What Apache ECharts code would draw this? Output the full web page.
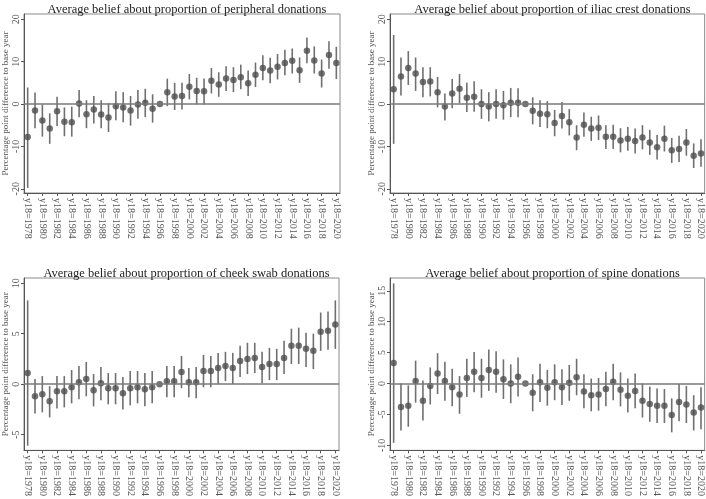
<!DOCTYPE html>
<html><head><meta charset="utf-8">
<script src="https://cdn.jsdelivr.net/npm/echarts@6/dist/echarts.min.js"></script>
<style>html,body{margin:0;padding:0;background:#fff}#c{width:706px;height:499px}</style>
</head><body><div id="c"></div>
<script>
const years = [1978,1979,1980,1981,1982,1983,1984,1985,1986,1987,1988,1989,1990,1991,1992,1993,1994,1995,1996,1997,1998,1999,2000,2001,2002,2003,2004,2005,2006,2007,2008,2009,2010,2011,2012,2013,2014,2015,2016,2017,2018,2019,2020];
const tickYears = [1978,1980,1982,1984,1986,1988,1990,1992,1994,1996,1998,2000,2002,2004,2006,2008,2010,2012,2014,2016,2018,2020];
const titles = [
  'Average belief about proportion of peripheral donations',
  'Average belief about proportion of iliac crest donations',
  'Average belief about proportion of cheek swab donations',
  'Average belief about proportion of spine donations'
];
const yTicksWide = [-20,-10,0,10,20];
const yTicksCheek = [-5,0,5,10];
const yTicksSpine = [-10,-5,0,5,10,15];

const periEst = [-7.8,-1.5,-3.9,-5.8,-1.7,-4.2,-4.3,0.1,-2.4,-1.3,-2.5,-3.2,-0.5,-0.8,-1.5,-0.1,0.3,-1.1,0,2.8,1.8,1.9,4.1,3.1,3.0,5.5,4.6,6.0,5.7,6.3,4.9,6.9,8.5,7.9,8.8,9.7,10.2,8.0,12.6,10.3,7.2,11.6,9.7];
const periHi = [3.9,2.7,-0.1,-2.2,1.7,-0.8,-0.6,3.3,0.9,1.9,0.9,0.2,3.0,2.8,1.9,3.3,3.6,2.3,null,6.0,5.0,5.0,7.1,6.2,6.0,8.5,7.5,8.9,8.7,9.3,7.9,9.8,11.5,10.9,11.8,12.8,13.1,11.0,15.7,13.6,10.5,14.8,13.5];
const periLo = [-19.8,-5.7,-7.7,-9.4,-5.2,-7.6,-7.7,-3.1,-5.7,-4.6,-5.7,-6.6,-3.8,-4.3,-5.1,-3.5,-3.1,-4.4,null,-0.5,-1.4,-1.3,1.1,-0.1,-0.1,2.5,1.7,3.1,2.8,3.5,1.9,4.0,5.6,4.9,5.8,6.8,7.2,5.0,9.6,7.2,3.9,8.3,5.9];

const iliacEst = [3.5,6.5,8.5,7.2,5.2,5.3,2.8,-0.6,2.5,3.6,1.5,1.7,0.0,-0.6,0.0,-0.3,0.3,0.3,0,-1.6,-2.3,-2.4,-4.5,-2.8,-4.3,-7.9,-4.9,-5.8,-5.6,-7.7,-7.7,-8.6,-8.2,-8.7,-7.9,-9.1,-10.2,-8.2,-10.9,-10.6,-9.1,-12.2,-11.7];
const iliacHi = [16.3,11.0,12.5,11.0,8.7,8.7,6.4,2.5,5.9,7.1,5.0,5.4,3.5,2.8,3.5,3.1,3.8,3.7,null,1.6,0.9,0.7,-1.4,0.5,-1.2,-5.0,-2.0,-3.0,-2.7,-5.0,-4.9,-5.7,-5.4,-5.8,-5.0,-6.1,-7.3,-5.1,-8.0,-7.5,-5.9,-9.3,-8.3];
const iliacLo = [-9.4,2.0,4.5,3.1,1.6,1.8,-0.8,-3.9,-1.0,0.2,-1.9,-1.8,-3.5,-4.1,-3.5,-3.7,-3.1,-3.1,null,-4.8,-5.4,-5.7,-7.6,-5.8,-7.4,-10.9,-7.7,-8.7,-8.5,-10.6,-10.6,-11.4,-11.0,-11.7,-10.7,-12.0,-13.1,-11.2,-13.9,-13.7,-12.2,-15.1,-14.8];

const cheekEst = [1.1,-1.2,-1.0,-1.7,-0.7,-0.7,-0.3,0.2,0.5,-0.6,0.1,-0.4,-0.4,-0.9,-0.4,-0.3,-0.5,-0.3,0,0.3,0.3,1.2,0.2,0.2,1.3,1.3,1.6,1.8,1.6,2.3,2.5,2.6,1.7,2.0,2.0,2.6,3.8,3.8,3.5,3.3,5.2,5.3,5.9];
const cheekHi = [8.3,0.5,0.8,-0.2,0.8,0.8,1.4,1.8,2.2,1.0,1.7,1.1,1.1,0.7,1.3,1.3,1.1,1.3,null,1.8,1.8,2.8,1.6,1.7,2.9,2.8,3.1,3.2,3.1,3.8,4.1,4.1,3.2,3.6,3.5,4.3,5.5,5.6,5.1,5.0,7.1,7.2,8.3];
const cheekLo = [-6.1,-2.9,-2.8,-3.3,-2.4,-2.3,-1.9,-1.5,-1.2,-2.2,-1.6,-2.0,-2.0,-2.5,-2.1,-1.9,-2.2,-1.9,null,-1.3,-1.3,-0.4,-1.3,-1.4,-0.3,-0.3,0.0,0.3,0.0,0.7,1.0,1.1,0.1,0.4,0.4,1.0,2.0,2.0,1.7,1.5,3.3,3.4,3.5];

const spineEst = [3.3,-3.8,-3.6,0.4,-2.8,-0.4,1.6,0.4,-0.6,-1.8,0.9,1.9,0.9,2.2,1.9,0.7,0.0,1.1,0,-1.5,0.2,-0.7,0.2,-0.6,0.1,1.0,-1.3,-1.9,-1.8,-0.9,0.3,-1.0,-2.0,-1.2,-2.8,-3.3,-3.6,-3.6,-5.1,-3.0,-3.4,-4.7,-3.9];
const spineHi = [16.2,0.0,-0.3,3.7,0.5,2.6,4.9,3.5,2.4,1.2,4.0,5.1,4.0,5.5,5.2,3.9,3.1,4.2,null,1.5,3.2,2.2,3.1,2.3,3.0,4.0,1.5,0.8,0.9,1.9,3.2,1.8,0.8,1.6,0.0,-0.5,-0.8,-0.9,-2.4,-0.1,-0.4,-1.9,-0.6];
const spineLo = [-9.6,-7.6,-7.0,-3.1,-6.0,-3.4,-1.7,-2.8,-3.7,-4.9,-2.2,-1.4,-2.3,-1.2,-1.5,-2.5,-3.2,-2.1,null,-4.5,-3.0,-3.6,-2.7,-3.5,-2.8,-1.9,-4.0,-4.5,-4.4,-3.7,-2.7,-3.7,-4.7,-4.0,-5.5,-6.2,-6.4,-6.4,-7.9,-6.1,-6.4,-7.6,-7.4];

const FONT = '"Liberation Serif","DejaVu Serif",serif';
const panels = [
  {est: periEst, lo: periLo, hi: periHi, ticks: yTicksWide, min: -21.0, max: 21.25, left: 24, top: 14, width: 316},
  {est: iliacEst, lo: iliacLo, hi: iliacHi, ticks: yTicksWide, min: -21.0, max: 21.25, left: 390, top: 14, width: 315},
  {est: cheekEst, lo: cheekLo, hi: cheekHi, ticks: yTicksCheek, min: -6.56, max: 10.52, left: 24, top: 278, width: 315},
  {est: spineEst, lo: spineLo, hi: spineHi, ticks: yTicksSpine, min: -10.82, max: 17.07, left: 390, top: 278, width: 315}
];

function ciRender(params, api) {
  const x = api.value(0), lo = api.value(1), hi = api.value(2);
  const p1 = api.coord([x, lo]), p2 = api.coord([x, hi]);
  return {type: 'line', shape: {x1: p1[0], y1: p1[1], x2: p2[0], y2: p2[1]},
          style: {stroke: '#707070', lineWidth: 1.6}};
}

const option = {backgroundColor: '#fff', animation: false, title: [], grid: [], xAxis: [], yAxis: [], series: []};
panels.forEach((p, i) => {
  option.title.push({text: titles[i], left: p.left + p.width / 2, top: p.top - 16, textAlign: 'center',
    textStyle: {fontFamily: FONT, fontSize: 12.5, fontWeight: 'normal', color: '#222'}});
  option.grid.push({left: p.left, top: p.top, width: p.width, height: 179, show: true,
    borderColor: '#8a8a8a', borderWidth: 1, backgroundColor: 'transparent'});
  option.xAxis.push({type: 'value', gridIndex: i, min: 1977.5, max: 2020.5,
    axisLine: {show: true, onZero: false, lineStyle: {color: '#555', width: 1}},
    axisTick: {show: true, length: 3, customValues: tickYears, lineStyle: {color: '#555'}},
    axisLabel: {customValues: tickYears, rotate: -90, margin: 5, fontFamily: FONT, fontSize: 10, color: '#555',
      formatter: v => 'y18=' + v},
    splitLine: {show: false}});
  option.yAxis.push({type: 'value', gridIndex: i, min: p.min, max: p.max,
    name: 'Percentage point difference to base year', nameLocation: 'middle', nameGap: 13,
    nameTextStyle: {fontFamily: FONT, fontSize: 9, color: '#555'},
    axisLine: {show: true, onZero: false, lineStyle: {color: '#555', width: 1}},
    axisTick: {show: true, length: 3, customValues: p.ticks, lineStyle: {color: '#555'}},
    axisLabel: {customValues: p.ticks, rotate: 90, margin: 3, fontFamily: FONT, fontSize: 10, color: '#555'},
    splitLine: {show: false}});
  const ci = [];
  years.forEach((y, k) => { if (p.lo[k] != null && p.hi[k] != null) ci.push([y, p.lo[k], p.hi[k]]); });
  option.series.push({type: 'custom', xAxisIndex: i, yAxisIndex: i, renderItem: ciRender,
    encode: {x: 0, y: [1, 2]}, data: ci, silent: true, z: 2});
  option.series.push({type: 'scatter', xAxisIndex: i, yAxisIndex: i, symbol: 'circle', symbolSize: 6.5,
    itemStyle: {color: '#4d4d4d'}, data: years.map((y, k) => [y, p.est[k]]), z: 4,
    markLine: {silent: true, symbol: 'none', label: {show: false},
      lineStyle: {color: '#7a7a7a', width: 1.5, type: 'solid'}, data: [{yAxis: 0}]}});
});
const chart = echarts.init(document.getElementById('c'), null, {renderer: 'canvas'});
chart.setOption(option);
</script></body></html>
